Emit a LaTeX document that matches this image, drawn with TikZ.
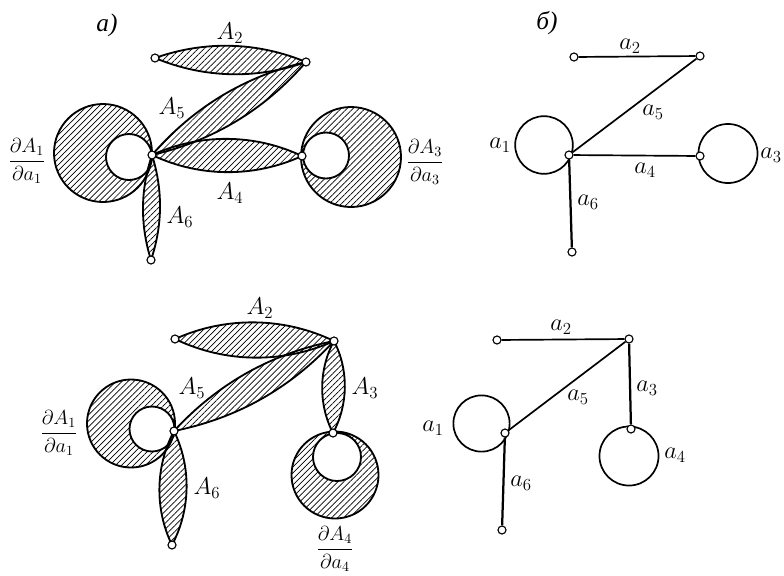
\documentclass[tikz,border=0pt]{standalone}
\usepackage{amsmath}
\usepackage{fontspec}
\usepackage{tikz}
\usetikzlibrary{patterns.meta,backgrounds,calc}
\newfontfamily\cyrfont{Liberation Serif}
\newcommand{\leaf}[3]{\draw[hatch] (#1.center)
  .. controls ($(#1.center)!0.35!#3:(#2.center)$) and ($(#2.center)!0.35!-#3:(#1.center)$) .. (#2.center)
  .. controls ($(#2.center)!0.35!#3:(#1.center)$) and ($(#1.center)!0.35!-#3:(#2.center)$) .. (#1.center);}

\begin{document}
\begin{tikzpicture}[
  x=0.025cm,y=0.025cm,
  pin/.style={circle,draw,fill=white,line width=0.8pt,minimum size=5.7pt,inner sep=0pt},
  lbl/.style={inner sep=0pt,font=\fontsize{18}{20}\selectfont},
  fra/.style={inner sep=0pt,font=\Large},
  loopc/.style={circle,draw,line width=1.2pt,inner sep=0pt},
  wire/.style={line width=1.2pt},
  hatch/.style={draw,line width=1.3pt,pattern={Lines[angle=45,distance=3pt,line width=0.5pt]}}]
  \useasboundingbox (0,0) rectangle (784,-575);
  % a) top left
  \node[pin](pa) at(155,-58){};
  \node[pin](pb) at(306,-62){};
  \node[pin](pc) at(152,-155){};
  \node[pin](pd) at(302,-156){};
  \node[pin](pe) at(151,-260){};
  \begin{scope}[on background layer]
    \draw[hatch,even odd rule] (103,-153) circle[radius=49] (129,-157) circle[radius=23];
    \draw[hatch,even odd rule] (351,-157) circle[radius=50] (326,-155.5) circle[radius=23];
    \leaf{pa}{pb}{21}
    \leaf{pc}{pb}{18}
    \leaf{pc}{pd}{25}
    \leaf{pc}{pe}{18}
  \end{scope}
  \node[lbl] (tfa) at(107,-25){\cyrfont\itshape a)};
  \node[lbl] (ta2) at(230,-33){$A_2$};
  \node[lbl] (ta5) at(172,-108){$A_5$};
  \node[lbl] (ta4) at(230,-193){$A_4$};
  \node[lbl] (ta6) at(180,-217){$A_6$};
  \node[fra] (da1) at(27,-161){$\dfrac{\partial A_1}{\partial a_1}$};
  \node[fra] (da3) at(425,-162){$\dfrac{\partial A_3}{\partial a_3}$};
  % b) top right
  \node[pin](qa) at(574,-57){};
  \node[pin](qb) at(700,-56){};
  \node[pin](qc) at(569,-155){};
  \node[pin](qd) at(700,-156){};
  \node[pin](qe) at(572,-252){};
  \begin{scope}[on background layer]
    \node[loopc,minimum size=41pt](qla) at(544,-145){};
    \node[loopc,minimum size=42pt](qlb) at(728,-153.5){};
    \draw[wire](qa)--(qb);\draw[wire](qc)--(qb);
    \draw[wire](qc)--(qd);\draw[wire,line width=1.6pt](qc)--(qe);
  \end{scope}
  \node[lbl] (tfb) at(547,-23){\cyrfont\itshape б)};
  \node[lbl] (tb2) at(630,-46){$a_2$};
  \node[lbl] (tb5) at(653,-112){$a_5$};
  \node[lbl] (tb1) at(500,-145){$a_1$};
  \node[lbl] (tb4) at(645,-170){$a_4$};
  \node[lbl] (tb3) at(771,-155){$a_3$};
  \node[lbl] (tb6) at(588,-202){$a_6$};
  % lower left
  \node[pin](ra) at(175,-339){};
  \node[pin](rb) at(334,-341){};
  \node[pin](rc) at(174,-431){};
  \node[pin](rd) at(333,-433){};
  \node[pin](re) at(172,-545){};
  \begin{scope}[on background layer]
    \draw[hatch,even odd rule] (131,-423.5) circle[radius=44] (152,-429) circle[radius=22.5];
    \draw[hatch,even odd rule] (335,-475) circle[radius=43.5] (337,-457) circle[radius=24];
    \leaf{ra}{rb}{25}
    \leaf{rc}{rb}{18}
    \leaf{rb}{rd}{28}
    \leaf{rc}{re}{27}
  \end{scope}
  \node[lbl] (tc2) at(260,-308){$A_2$};
  \node[lbl] (tc5) at(192,-388){$A_5$};
  \node[lbl] (tc3) at(365,-388){$A_3$};
  \node[lbl] (tc6) at(207,-488){$A_6$};
  \node[fra] (dc1) at(59,-433){$\dfrac{\partial A_1}{\partial a_1}$};
  \node[fra] (dc4) at(335,-549){$\dfrac{\partial A_4}{\partial a_4}$};
  % lower right
  \node[pin](sa) at(497,-340){};
  \node[pin](sb) at(629,-339){};
  \node[pin](sc) at(505,-433){};
  \node[pin](sd) at(631,-429){};
  \node[pin](se) at(502,-530){};
  \begin{scope}[on background layer]
    \node[loopc,minimum size=40pt](sla) at(481.5,-423.5){};
    \node[loopc,minimum size=42pt](slb) at(629,-456){};
    \draw[wire](sa)--(sb);\draw[wire](sc)--(sb);
    \draw[wire,line width=1.6pt](sb)--(sd);\draw[wire,line width=1.6pt](sc)--(se);
  \end{scope}
  \node[lbl] (td2) at(561,-327){$a_2$};
  \node[lbl] (td5) at(578,-397){$a_5$};
  \node[lbl] (td3) at(647,-388){$a_3$};
  \node[lbl] (td1) at(433,-428){$a_1$};
  \node[lbl] (td4) at(675,-455){$a_4$};
  \node[lbl] (td6) at(521,-483){$a_6$};
\end{tikzpicture}
\end{document}
